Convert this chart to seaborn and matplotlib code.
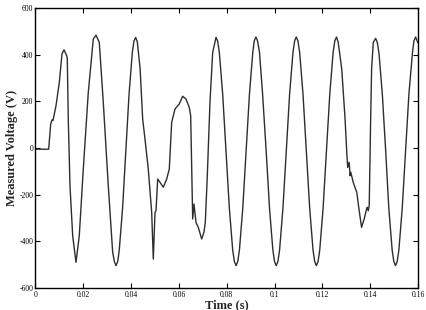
import matplotlib
matplotlib.use("Agg")
import matplotlib.pyplot as plt
import seaborn as sns
import pandas as pd

# Time (s) and measured voltage (V)
time_s = [
    0.0, 0.00552, 0.00636, 0.0069, 0.00732, 0.00858, 0.00996, 0.01109, 0.01192,
    0.01305, 0.0133, 0.01372, 0.01443, 0.01556, 0.01694, 0.01832, 0.0200, 0.02209,
    0.02418, 0.02531, 0.02669, 0.02836, 0.03045, 0.03229, 0.0330, 0.03367, 0.0344,
    0.03505, 0.03643, 0.03781, 0.03915, 0.04053, 0.0412, 0.04191, 0.0426,
    0.04377, 0.04484, 0.0458, 0.04718, 0.04861, 0.04928, 0.0500, 0.05041, 0.05112,
    0.05208, 0.05346, 0.05488, 0.05597, 0.05697, 0.05835, 0.06015, 0.06157, 0.06295,
    0.06433, 0.06492, 0.06534, 0.06576, 0.0663, 0.06714, 0.0681, 0.06952, 0.07048,
    0.07103, 0.07187, 0.07299, 0.07412, 0.0755, 0.0762,
    0.0769, 0.0783, 0.0797, 0.0811, 0.0825, 0.0832, 0.0839, 0.0846,
    0.0853, 0.0867, 0.0881, 0.0895, 0.0909, 0.0915, 0.0922, 0.0929,
    0.0937, 0.0950, 0.0965, 0.0979, 0.0993, 0.1000, 0.1007, 0.1014,
    0.1021, 0.1035, 0.1049, 0.1063, 0.1077, 0.1084, 0.1091, 0.1098,
    0.1105, 0.1119, 0.1133, 0.1147, 0.1161, 0.1168, 0.1175, 0.1182,
    0.1189, 0.1203, 0.1217, 0.1231, 0.1245, 0.1252, 0.1259, 0.1266,
    0.1281, 0.1295, 0.1302, 0.1306, 0.1312, 0.1316, 0.1319, 0.1329, 0.1344,
    0.1353, 0.1364, 0.1375, 0.1385, 0.1388, 0.1392, 0.1396, 0.1402, 0.1406,
    0.1413, 0.1423, 0.1430,
    0.1437, 0.1451, 0.1465, 0.1478, 0.1492, 0.1499, 0.1506, 0.1513,
    0.1520, 0.1534, 0.1548, 0.1562, 0.1577, 0.1583, 0.1590, 0.1600,
]
voltage_v = [
    -5, -5, 103, 120, 118, 181, 281, 403, 421,
    396, 384, 124, -162, -376, -490, -376, -90, 239,
    467, 484, 453, 196, -162, -447, -487, -504, -487,
    -437, -258, -12, 233, 412, 459, 474, 455,
    339, 124, 39, -90, -276, -476, -276, -269, -133,
    -147, -168, -133, -90, 110, 167, 189, 222, 210,
    174, 138, -90, -304, -240, -319, -340, -390, -361,
    -319, -119, 196, 410, 474, 459,
    410, 231, -14, -259, -438, -487, -504, -487,
    -438, -259, -14, 231, 410, 459, 476, 459,
    410, 231, -14, -259, -438, -487, -504, -487,
    -438, -259, -14, 231, 410, 459, 476, 459,
    410, 231, -14, -259, -438, -487, -504, -487,
    -438, -259, -14, 231, 410, 459, 476, 455,
    339, 124, -18, -83, -61, -119, -104, -147, -190,
    -261, -340, -304, -261, -254, -269, -247, 124, 339,
    453, 470, 452,
    405, 228, -15, -259, -438, -487, -504, -487,
    -438, -259, -14, 231, 410, 459, 476, 450,
]

x_ticks = [0, 0.02, 0.04, 0.06, 0.08, 0.1, 0.12, 0.14, 0.16]
x_tick_labels = ["0", "0.02", "0.04", "0.06", "0.08", "0.1", "0.12", "0.14", "0.16"]
y_ticks = [-600, -400, -200, 0, 200, 400, 600]
y_tick_labels = ["-600", "-400", "-200", "0", "200", "400", "600"]

sns.set_theme(style="ticks")
plt.rcParams["font.family"] = ["Liberation Serif", "DejaVu Serif"]

df = pd.DataFrame({"Time (s)": time_s, "Measured Voltage (V)": voltage_v})

fig = plt.figure(figsize=(4.27, 3.10), dpi=100)
ax = fig.add_axes([0.0831, 0.071, 0.8958, 0.903])
sns.lineplot(data=df, x="Time (s)", y="Measured Voltage (V)", ax=ax,
             sort=False, estimator=None, color="#2e2e2e", linewidth=1.0)

ax.set_xlim(0, 0.16)
ax.set_ylim(-600, 600)
ax.set_xticks(x_ticks)
ax.set_xticklabels(x_tick_labels)
ax.set_yticks(y_ticks)
ax.set_yticklabels(y_tick_labels)
ax.tick_params(direction="in", length=3.5, width=0.8, top=True, right=True,
               labelsize=5.5, pad=2.5, colors="black")
ax.tick_params(axis="y", pad=1.5)
for s in ax.spines.values():
    s.set_visible(True)
    s.set_linewidth(1.0)
    s.set_color("black")

ax.set_xlabel("Time (s)", fontsize=9, fontweight="bold", labelpad=0)
ax.set_ylabel("Measured Voltage (V)", fontsize=9, fontweight="bold", labelpad=1)

fig.savefig("out.png", dpi=100)
